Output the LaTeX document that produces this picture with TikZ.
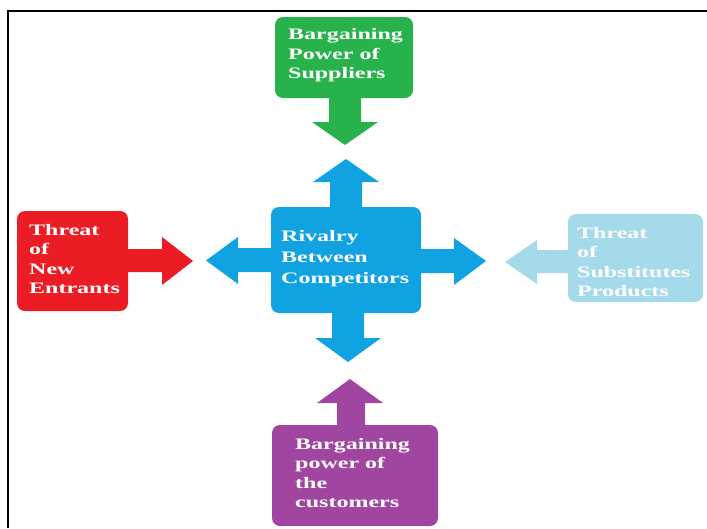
\documentclass[tikz,border=0pt]{standalone}
\usepackage{fontspec}
\newfontfamily\boxfont[FakeStretch=1.5]{Liberation Serif Bold}
\definecolor{cgreen}{RGB}{40,178,76}
\definecolor{cblue}{RGB}{17,162,226}
\definecolor{cred}{RGB}{236,28,36}
\definecolor{clight}{RGB}{164,218,234}
\definecolor{cpurple}{RGB}{160,70,160}
\begin{document}
\begin{tikzpicture}[x=1pt,y=-1pt,
  box/.style={rounded corners=8pt, inner sep=0pt, draw=none},
  lbl/.style={text=white, align=left, anchor=north west, inner sep=0pt,
    font=\boxfont\fontsize{16}{19.4}\selectfont},
  arr/.style={draw=none}]
\useasboundingbox (0,0) rectangle (707,528);
% frame
\draw[line width=1.8pt] (8,528) -- (8,11) -- (707,11);
% boxes
\node[box, fill=cgreen, minimum width=138pt, minimum height=81pt] (sup) at (344,57.5) {};
\node[box, fill=cblue, minimum width=150pt, minimum height=106pt] (riv) at (346,260) {};
\node[box, fill=cred, minimum width=111pt, minimum height=100pt] (new) at (72.5,261) {};
\node[box, fill=clight, minimum width=135pt, minimum height=88pt] (sub) at (635.5,258) {};
\node[box, fill=cpurple, minimum width=166pt, minimum height=101pt] (cus) at (355,475.5) {};
% arrows
\fill[cgreen] (329,96) -- (361,96) -- (361,122) -- (378,122) -- (345,145) -- (312,122) -- (329,122) -- cycle;
\fill[cblue] (330,210) -- (330,182) -- (313,182) -- (346,159) -- (379,182) -- (362,182) -- (362,210) -- cycle;
\fill[cblue] (274,248) -- (238,248) -- (238,237) -- (206,260.5) -- (238,284) -- (238,272) -- (274,272) -- cycle;
\fill[cblue] (418,249) -- (454,249) -- (454,238) -- (486,261) -- (454,285) -- (454,273) -- (418,273) -- cycle;
\fill[cblue] (332,310) -- (364,310) -- (364,338) -- (381,338) -- (348,362) -- (315,338) -- (332,338) -- cycle;
\fill[cred] (126,249) -- (162,249) -- (162,237) -- (193,261) -- (162,285) -- (162,272) -- (126,272) -- cycle;
\fill[clight] (570,250) -- (537,250) -- (537,240) -- (505,262) -- (537,284) -- (537,273) -- (570,273) -- cycle;
\fill[cpurple] (337,427) -- (337,403) -- (317,403) -- (350,379) -- (383,403) -- (365,403) -- (365,427) -- cycle;
% labels
\node[lbl] (tsup) at (288,28.5) {Bargaining\\Power of\\Suppliers};
\node[lbl, font=\boxfont\fontsize{16}{21}\selectfont] (triv) at (281,230) {Rivalry\\Between\\Competitors};
\node[lbl] (tnew) at (29,224) {Threat\\of\\New\\Entrants};
\node[lbl] (tsub) at (577,227) {Threat\\of\\Substitutes\\Products};
\node[lbl] (tcus) at (295,438) {Bargaining\\power of\\the\\customers};
\end{tikzpicture}
\end{document}
